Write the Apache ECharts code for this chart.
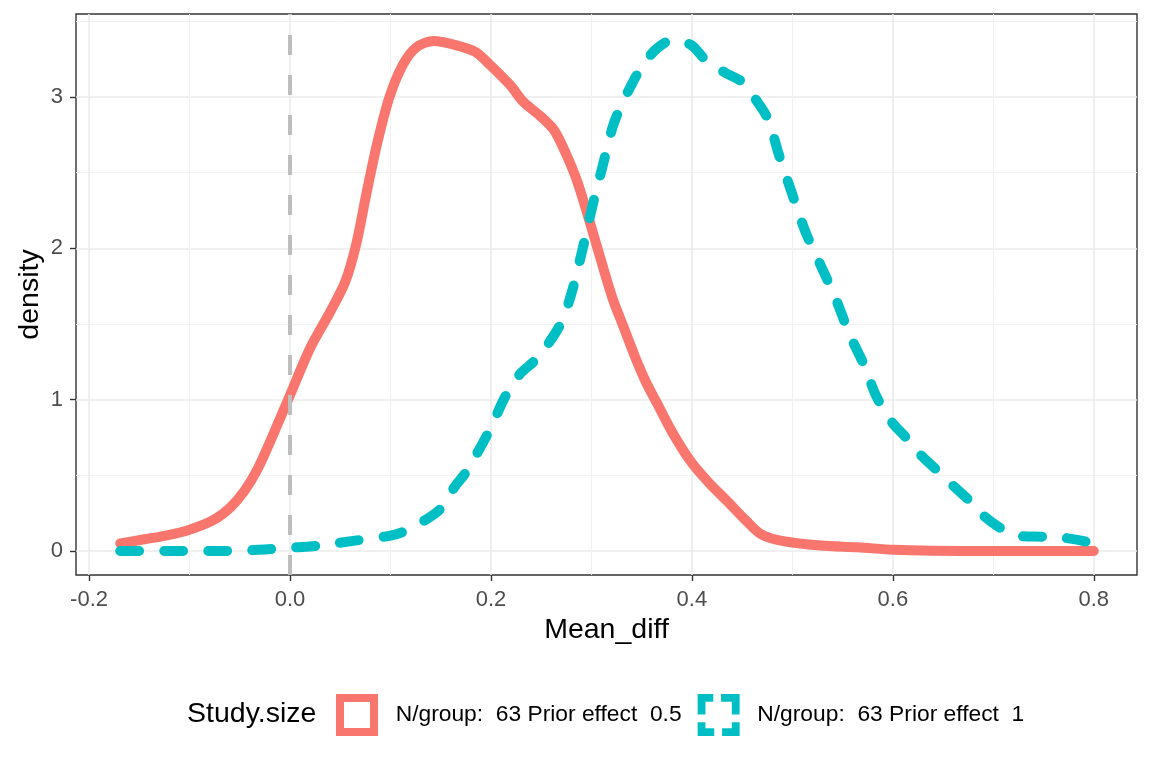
<!DOCTYPE html>
<html>
<head>
<meta charset="utf-8">
<script src="https://cdn.jsdelivr.net/npm/echarts@6/dist/echarts.min.js"></script>
<style>
	html, body { margin: 0; padding: 0; background: #fff; }
	#chart { width: 1152px; height: 768px; }
</style>
</head>
<body>
<div id="chart"></div>
<script>
const xTicks = [-0.2, 0, 0.2, 0.4, 0.6, 0.8]
const yTicks = [0, 1, 2, 3]
const legendTitle = 'Study.size'
const seriesNames = ['N/group:  63 Prior effect  0.5', 'N/group:  63 Prior effect  1']
const refLineX = 0

// prior effect 0.5 (red, solid)
const redX = [-0.169, -0.145, -0.121, -0.100, -0.076, -0.059, -0.045, -0.032, -0.018, 0.000,
	0.020, 0.040, 0.055, 0.066, 0.076, 0.087, 0.099, 0.112, 0.126, 0.143,
	0.164, 0.184, 0.198, 0.219, 0.232, 0.249, 0.263, 0.275, 0.286, 0.299,
	0.310, 0.321, 0.332, 0.343, 0.354, 0.365, 0.380, 0.399, 0.417, 0.435,
	0.454, 0.469, 0.491, 0.528, 0.565, 0.601, 0.640, 0.700, 0.800]
const redY = [0.05, 0.077, 0.105, 0.14, 0.205, 0.29, 0.40, 0.545, 0.75, 1.03,
	1.34, 1.58, 1.78, 2.03, 2.36, 2.70, 3.00, 3.21, 3.33, 3.37,
	3.345, 3.30, 3.22, 3.08, 2.97, 2.875, 2.78, 2.62, 2.44, 2.16,
	1.91, 1.67, 1.48, 1.29, 1.12, 0.98, 0.79, 0.59, 0.45, 0.33,
	0.20, 0.11, 0.065, 0.036, 0.024, 0.008, 0.002, 0.0, 0.0]

// prior effect 1 (teal, dashed)
const tealX = [-0.169, -0.110, -0.066, -0.025, 0.006, 0.027, 0.061, 0.099, 0.112, 0.136,
	0.150, 0.164, 0.174, 0.184, 0.198, 0.215, 0.229, 0.243, 0.256, 0.270,
	0.280, 0.291, 0.301, 0.311, 0.321, 0.328, 0.339, 0.351, 0.365, 0.380,
	0.399, 0.413, 0.432, 0.450, 0.465, 0.476, 0.487, 0.498, 0.513, 0.528,
	0.543, 0.557, 0.572, 0.583, 0.598, 0.613, 0.627, 0.642, 0.661, 0.675,
	0.690, 0.705, 0.723, 0.749, 0.768, 0.790, 0.800]
const tealY = [0.0, 0.0, 0.0, 0.01, 0.024, 0.034, 0.065, 0.10, 0.125, 0.21,
	0.28, 0.425, 0.51, 0.62, 0.79, 1.03, 1.17, 1.255, 1.36, 1.51,
	1.70, 1.99, 2.28, 2.54, 2.80, 2.92, 3.07, 3.21, 3.32, 3.375,
	3.345, 3.25, 3.165, 3.10, 2.97, 2.85, 2.61, 2.395, 2.11, 1.89,
	1.67, 1.43, 1.22, 1.03, 0.86, 0.75, 0.64, 0.545, 0.425, 0.34,
	0.235, 0.16, 0.10, 0.094, 0.089, 0.065, 0.04]

const red = '#F8766D'
const teal = '#00BFC4'
const font = '"Liberation Sans", Arial, sans-serif'

const myChart = echarts.init(document.getElementById('chart'), null, { renderer: 'canvas' })

const pairs = (xs, ys) => xs.map((x, i) => [x, ys[i]])

const gridLine = { show: true, lineStyle: { color: '#EBEBEB', width: 1.6 } }
const minorLine = { show: true, lineStyle: { color: '#EFEFEF', width: 0.9 } }
const tickStyle = { color: '#333333', width: 1.4 }

let option = {
	backgroundColor: '#fff',
	animation: false,
	textStyle: { fontFamily: font },
	grid: {
		left: 76, right: 15, top: 14, bottom: 193,
		show: true, borderColor: '#333333', borderWidth: 1.4, backgroundColor: '#fff',
		containLabel: false, outerBoundsMode: 'none',
	},
	xAxis: {
		type: 'value',
		min: -0.213, max: 0.843,
		minInterval: 0.2, maxInterval: 0.2,
		axisLine: { show: false, onZero: false },
		axisTick: { show: true, inside: false, length: 6, customValues: xTicks, lineStyle: tickStyle },
		axisLabel: { customValues: xTicks, color: '#4D4D4D', fontSize: 22, margin: 14, fontFamily: font,
			formatter: (v) => v.toFixed(1) },
		splitLine: gridLine,
		minorTick: { show: false, splitNumber: 2 },
		minorSplitLine: minorLine,
		name: 'Mean_diff', nameLocation: 'middle', nameGap: 41, nameMoveOverlap: false,
		nameTextStyle: { color: '#000', fontSize: 28.5, fontFamily: font },
	},
	yAxis: {
		type: 'value',
		min: -0.159, max: 3.549,
		minInterval: 1, maxInterval: 1,
		axisLine: { show: false, onZero: false },
		axisTick: { show: true, inside: false, length: 6, customValues: yTicks, lineStyle: tickStyle },
		axisLabel: { customValues: yTicks, color: '#4D4D4D', fontSize: 22, margin: 13, fontFamily: font },
		splitLine: gridLine,
		minorTick: { show: false, splitNumber: 2 },
		minorSplitLine: minorLine,
		name: 'density', nameLocation: 'middle', nameGap: 31, nameMoveOverlap: false,
		nameTextStyle: { color: '#000', fontSize: 28.5, fontFamily: font },
	},
	legend: {
		left: 336, top: 694, padding: 0,
		itemWidth: 42, itemHeight: 42, itemGap: 16,
		formatter: (name) => '  ' + name,
		textStyle: { color: '#000', fontSize: 22.8, fontFamily: font },
		data: [
			{ name: seriesNames[0], icon: 'path://M0,0H42V42H0Z M8,8V34H34V8Z',
				itemStyle: { color: red, borderWidth: 0 } },
			{ name: seriesNames[1],
				icon: 'path://M0,0H16V8H8V21H0Z M24,0H43V21H35V8H24Z M0,29H8V35H17V43H0Z M35,29H43V43H25V35H35Z',
				itemStyle: { color: teal, borderWidth: 0 } },
		],
	},
	graphic: [
		{
			type: 'text', left: 187, top: 700,
			style: { text: legendTitle, fill: '#000', font: '28.5px ' + font },
		},
	],
	series: [
		{
			name: seriesNames[0],
			type: 'line',
			data: pairs(redX, redY),
			smooth: 0.3,
			showSymbol: false,
			symbol: 'none',
			color: red,
			lineStyle: { color: red, width: 10, cap: 'round', join: 'round' },
			z: 2,
		},
		{
			name: seriesNames[1],
			type: 'line',
			data: pairs(tealX, tealY),
			smooth: 0.3,
			showSymbol: false,
			symbol: 'none',
			color: teal,
			lineStyle: { color: teal, width: 10, type: [19, 25], cap: 'round', join: 'round' },
			z: 3,
		},
		{
			name: 'ref',
			type: 'line',
			data: [],
			z: 4,
			markLine: {
				silent: true,
				symbol: ['none', 'none'],
				label: { show: false },
				lineStyle: { color: '#BEBEBE', width: 4, type: [20, 20] },
				data: [{ xAxis: refLineX }],
			},
		},
	],
}
myChart.setOption(option)

window.addEventListener('resize', () => {
	myChart.resize()
})
</script>
</body>
</html>
